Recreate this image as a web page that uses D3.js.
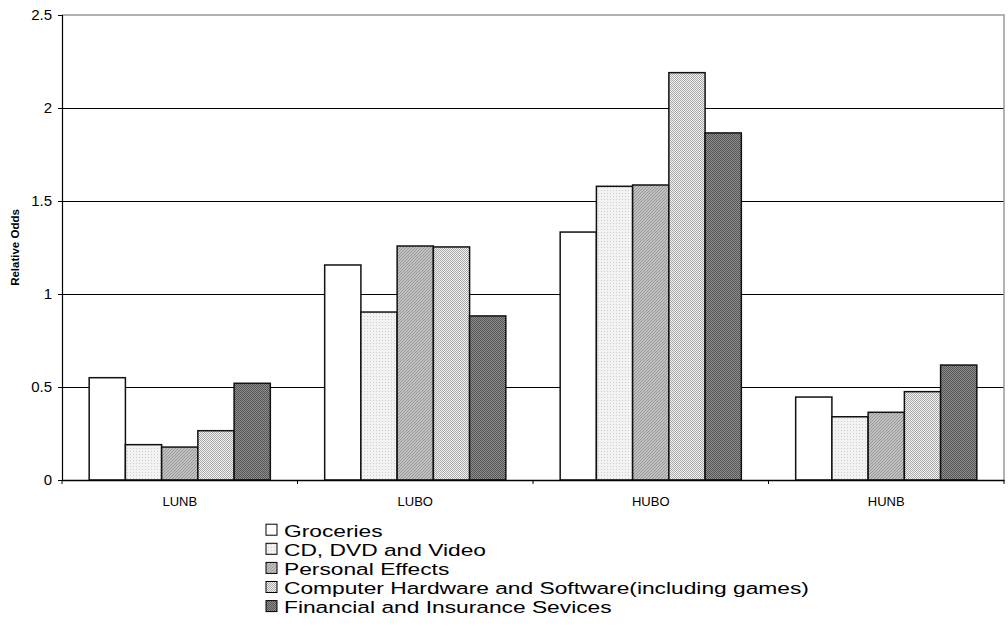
<!DOCTYPE html>
<html><head><meta charset="utf-8">
<script src="https://cdn.jsdelivr.net/npm/d3@7"></script>
<style>body{margin:0;background:#fff;} svg{display:block;font-family:"Liberation Sans",Arial,sans-serif;}</style>
</head><body>
<svg id="c" width="1008" height="629"></svg>
<script>
const categories = ["LUNB","LUBO","HUBO","HUNB"];
const seriesNames = ["Groceries","CD, DVD and Video","Personal Effects","Computer Hardware and Software(including games)","Financial and Insurance Sevices"];
const groceries = [0.55, 1.156, 1.333, 0.446];
const cdDvdVideo = [0.19, 0.903, 1.579, 0.34];
const personalEffects = [0.177, 1.258, 1.586, 0.364];
const computerHardware = [0.265, 1.253, 2.19, 0.475];
const financialServices = [0.52, 0.882, 1.866, 0.618];
const yTicks = [0, 0.5, 1, 1.5, 2, 2.5];
const seriesValues = [groceries, cdDvdVideo, personalEffects, computerHardware, financialServices];

const svg = d3.select("#c");
const m = {l:62, t:15, r:1004, b:480};
const defs = svg.append("defs");

function pat(id, bg, fg, size, cells){
  const p = defs.append("pattern").attr("id",id).attr("patternUnits","userSpaceOnUse")
    .attr("width",size).attr("height",size);
  p.append("rect").attr("width",size).attr("height",size).attr("fill",bg);
  cells.forEach(c=>p.append("rect").attr("x",c[0]).attr("y",c[1]).attr("width",1).attr("height",1).attr("fill",fg));
}
pat("p1","#f2f2f2","#d0d0d0",3,[[1,1]]);
pat("p2","#c0c0c0","#999999",3,[[0,2],[1,1],[2,0]]);
pat("p3","#f4f4f4","#a8a8a8",2,[[0,0],[1,1]]);
pat("p4","#8e8e8e","#555555",2,[[0,0],[1,1]]);
const fills = ["#ffffff","url(#p1)","url(#p2)","url(#p3)","url(#p4)"];

const x0 = d3.scaleBand().domain(categories).range([m.l, m.r]).paddingInner(0).paddingOuter(0);
const bw = x0.bandwidth()/(5+1.5);
const x1 = d3.scaleBand().domain(d3.range(5)).range([bw*0.75, x0.bandwidth()-bw*0.75]).padding(0);
const y = d3.scaleLinear().domain([0,2.5]).range([m.b, m.t]);

svg.append("g").selectAll("line").data(yTicks.filter(t=>t>0 && t<2.5)).join("line")
  .attr("x1",m.l).attr("x2",m.r).attr("y1",d=>y(d)).attr("y2",d=>y(d))
  .attr("stroke","#000").attr("stroke-width",1).attr("shape-rendering","crispEdges");
svg.append("path").attr("d",`M${m.l},${m.t}H${m.r}V${m.b}`).attr("fill","none")
  .attr("stroke","#9a9a9a").attr("stroke-width",1.5);

const g = svg.append("g");
categories.forEach((c,ci)=>{
  seriesValues.forEach((vals,si)=>{
    g.append("rect").attr("x",x0(c)+x1(si)).attr("y",y(vals[ci]))
      .attr("width",x1.bandwidth()).attr("height",y(0)-y(vals[ci]))
      .attr("fill",fills[si]).attr("stroke","#111").attr("stroke-width",1.5);
  });
});

const ya = svg.append("g").attr("transform",`translate(${m.l},0)`)
  .call(d3.axisLeft(y).tickValues(yTicks).tickSize(4).tickPadding(6).tickFormat(d3.format("")));
ya.select(".domain").attr("stroke","#000").attr("stroke-width",1.2);
ya.selectAll(".tick line").attr("stroke","#000");
ya.selectAll("text").attr("font-size",15).attr("fill","#000").attr("font-family","Liberation Sans, Arial, sans-serif");

const xa = svg.append("g").attr("transform",`translate(0,${m.b})`)
  .call(d3.axisBottom(x0).tickSize(0).tickPadding(17));
xa.select(".domain").attr("stroke","#000").attr("stroke-width",1.5);
xa.selectAll("text").attr("font-size",13).attr("fill","#000").attr("font-family","Liberation Sans, Arial, sans-serif");
svg.append("g").selectAll("line").data(d3.range(5)).join("line")
  .attr("x1",i=>m.l + i*x0.bandwidth()).attr("x2",i=>m.l + i*x0.bandwidth())
  .attr("y1",m.b).attr("y2",m.b+4).attr("stroke","#000");

svg.append("text").attr("transform","translate(19,247.5) rotate(-90)").attr("text-anchor","middle")
  .attr("font-size",11.5).attr("font-weight","bold").text("Relative Odds");

const lg = svg.append("g");
seriesNames.forEach((n,i)=>{
  const by = 536.7 + i*19.1;
  lg.append("rect").attr("x",266).attr("y",by-12.5).attr("width",11).attr("height",11)
    .attr("fill",fills[i]).attr("stroke","#000").attr("stroke-width",1);
  lg.append("text").attr("transform",`translate(284,${by}) scale(1.34,1)`).attr("font-size",17).text(n);
});
</script>
</body></html>
